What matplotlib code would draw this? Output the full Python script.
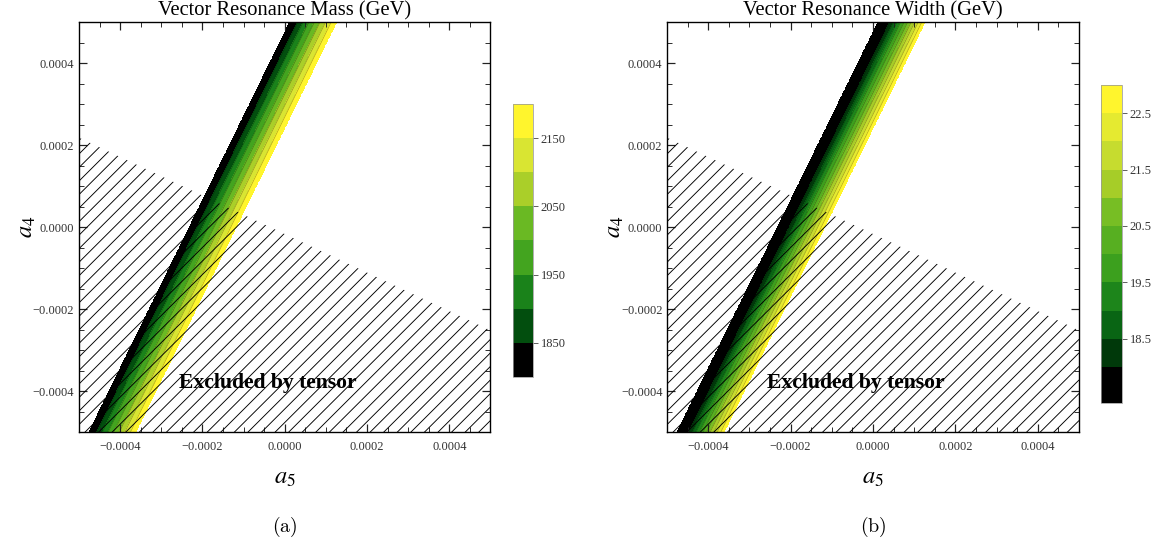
import numpy as np
import matplotlib.pyplot as plt
from matplotlib.colors import LinearSegmentedColormap
from matplotlib.collections import LineCollection
from matplotlib.patches import Polygon
from matplotlib.ticker import MultipleLocator, FuncFormatter

plt.rcParams["font.family"] = ["Liberation Serif", "DejaVu Serif"]
plt.rcParams["mathtext.fontset"] = "stix"

# contour levels and where each contour crosses a4 = 0 (contours are parallel lines)
band_slope = 2.05  # d(a4)/d(a5) along a contour
mass_levels = [1800, 1850, 1900, 1950, 2000, 2050, 2100, 2150, 2200]
mass_a5_at_zero = [-2.32e-4, -2.125e-4, -1.99e-4, -1.853e-4, -1.717e-4,
                   -1.581e-4, -1.445e-4, -1.309e-4, -1.173e-4]
mass_ticks = [1850, 1950, 2050, 2150]

width_levels = [17.36, 18.0, 18.5, 19.0, 19.5, 20.0, 20.5, 21.0, 21.5, 22.0, 22.5, 23.0]
width_a5_at_zero = [-2.32e-4, -2.028e-4, -1.942e-4, -1.856e-4, -1.770e-4, -1.685e-4,
                    -1.599e-4, -1.513e-4, -1.427e-4, -1.342e-4, -1.256e-4, -1.170e-4]
width_ticks = [18.5, 19.5, 20.5, 21.5, 22.5]

# upper edge of the region excluded by the tensor resonance
tensor_a5 = [-5e-4, 5e-4]
tensor_a4 = [2.18e-4, -2.52e-4]

lim = 5e-4
hatch_step = 3.3e-5  # offset between neighbouring hatch lines a4 = a5 + c

avocado = LinearSegmentedColormap.from_list("avocado", [
    (0.0, (0, 0, 0)),
    (0.12, (0 / 255, 70 / 255, 12 / 255)),
    (0.25, (15 / 255, 120 / 255, 25 / 255)),
    (0.40, (60 / 255, 160 / 255, 30 / 255)),
    (0.57, (105 / 255, 185 / 255, 35 / 255)),
    (0.70, (165 / 255, 205 / 255, 40 / 255)),
    (0.85, (215 / 255, 228 / 255, 50 / 255)),
    (1.0, (255 / 255, 245 / 255, 45 / 255)),
])

a5 = np.linspace(-lim, lim, 700)
a4 = np.linspace(-lim, lim, 700)
A5, A4 = np.meshgrid(a5, a4)
S = A5 - A4 / band_slope

tick_fmt = FuncFormatter(lambda v, p: f"{v:.4f}".replace("-", "\u2212") if abs(v) > 1e-12 else "0.0000")

fig = plt.figure(figsize=(1161 / 110, 545 / 110), dpi=110)


def excluded_region(ax):
    verts = list(zip(tensor_a5, tensor_a4)) + [(tensor_a5[-1], -lim), (tensor_a5[0], -lim)]
    poly = Polygon(verts, closed=True, facecolor="none", edgecolor="none", zorder=3)
    ax.add_patch(poly)
    offsets = np.arange(-3 * lim, 3 * lim, hatch_step)
    segs = [[(-lim, -lim + c), (lim, lim + c)] for c in offsets]
    lc = LineCollection(segs, colors="black", linewidths=0.6, zorder=3)
    ax.add_collection(lc)
    lc.set_clip_path(poly)


def panel(ax_rect, cax_rect, levels, a5_at_zero, ticks, title, caption, tick_str):
    ax = fig.add_axes(ax_rect)
    cax = fig.add_axes(cax_rect)
    z = np.interp(S, a5_at_zero, levels, left=np.nan, right=np.nan)
    n = len(levels) - 1
    colors = [avocado(i / (n - 1)) for i in range(n)]
    cs = ax.contourf(A5, A4, z, levels=levels, colors=colors, zorder=1)
    ax.contour(A5, A4, z, levels=levels[1:-1], colors="k", alpha=0.3,
               linewidths=0.5, zorder=2)

    excluded_region(ax)
    ax.text(-0.414e-4, -3.8e-4, "Excluded by tensor", fontsize=14.2,
            fontweight="bold", ha="center", va="center", zorder=4)

    ax.set_xlim(-lim, lim)
    ax.set_ylim(-lim, lim)
    for axis in (ax.xaxis, ax.yaxis):
        axis.set_major_locator(MultipleLocator(2e-4))
        axis.set_minor_locator(MultipleLocator(5e-5))
        axis.set_major_formatter(tick_fmt)
    ax.tick_params(which="both", direction="in", top=True, right=True,
                   labelsize=8.2, labelcolor="#333333", color="#222222")
    ax.tick_params(which="major", length=5, width=0.8)
    ax.tick_params(which="minor", length=3, width=0.6)
    ax.tick_params(axis="x", pad=6)
    ax.tick_params(axis="y", pad=3)
    for sp in ax.spines.values():
        sp.set_linewidth(0.9)

    ax.set_title(title, fontsize=13.4, pad=4)
    ax.set_xlabel("$a_5$", fontsize=16)
    ax.xaxis.set_label_coords(0.5, -0.088)
    ax.set_ylabel("$a_4$", fontsize=16)
    ax.yaxis.set_label_coords(-0.1, 0.5)

    cb = fig.colorbar(cs, cax=cax, spacing="proportional", ticks=ticks)
    cb.ax.set_yticklabels([tick_str(t) for t in ticks])
    cb.outline.set_linewidth(0.5)
    cb.outline.set_edgecolor("#999999")
    cb.ax.tick_params(labelsize=8.2, labelcolor="#333333", color="#555555",
                      length=3, width=0.6, pad=2)

    x_mid = ax_rect[0] + ax_rect[2] / 2
    fig.text(x_mid, 0.033, caption, fontsize=13, ha="center", va="center",
             math_fontfamily="cm")
    return ax


panel([0.0680, 0.2073, 0.3544, 0.7523], [0.4419, 0.3083, 0.0172, 0.5009],
      mass_levels, mass_a5_at_zero, mass_ticks,
      "Vector Resonance Mass (GeV)", r"$\mathrm{(a)}$", lambda t: f"{t:d}")
panel([0.5745, 0.2073, 0.3549, 0.7523], [0.9483, 0.2606, 0.0181, 0.5835],
      width_levels, width_a5_at_zero, width_ticks,
      "Vector Resonance Width (GeV)", r"$\mathrm{(b)}$", lambda t: f"{t:.1f}")

fig.savefig("out.png", dpi=110)
